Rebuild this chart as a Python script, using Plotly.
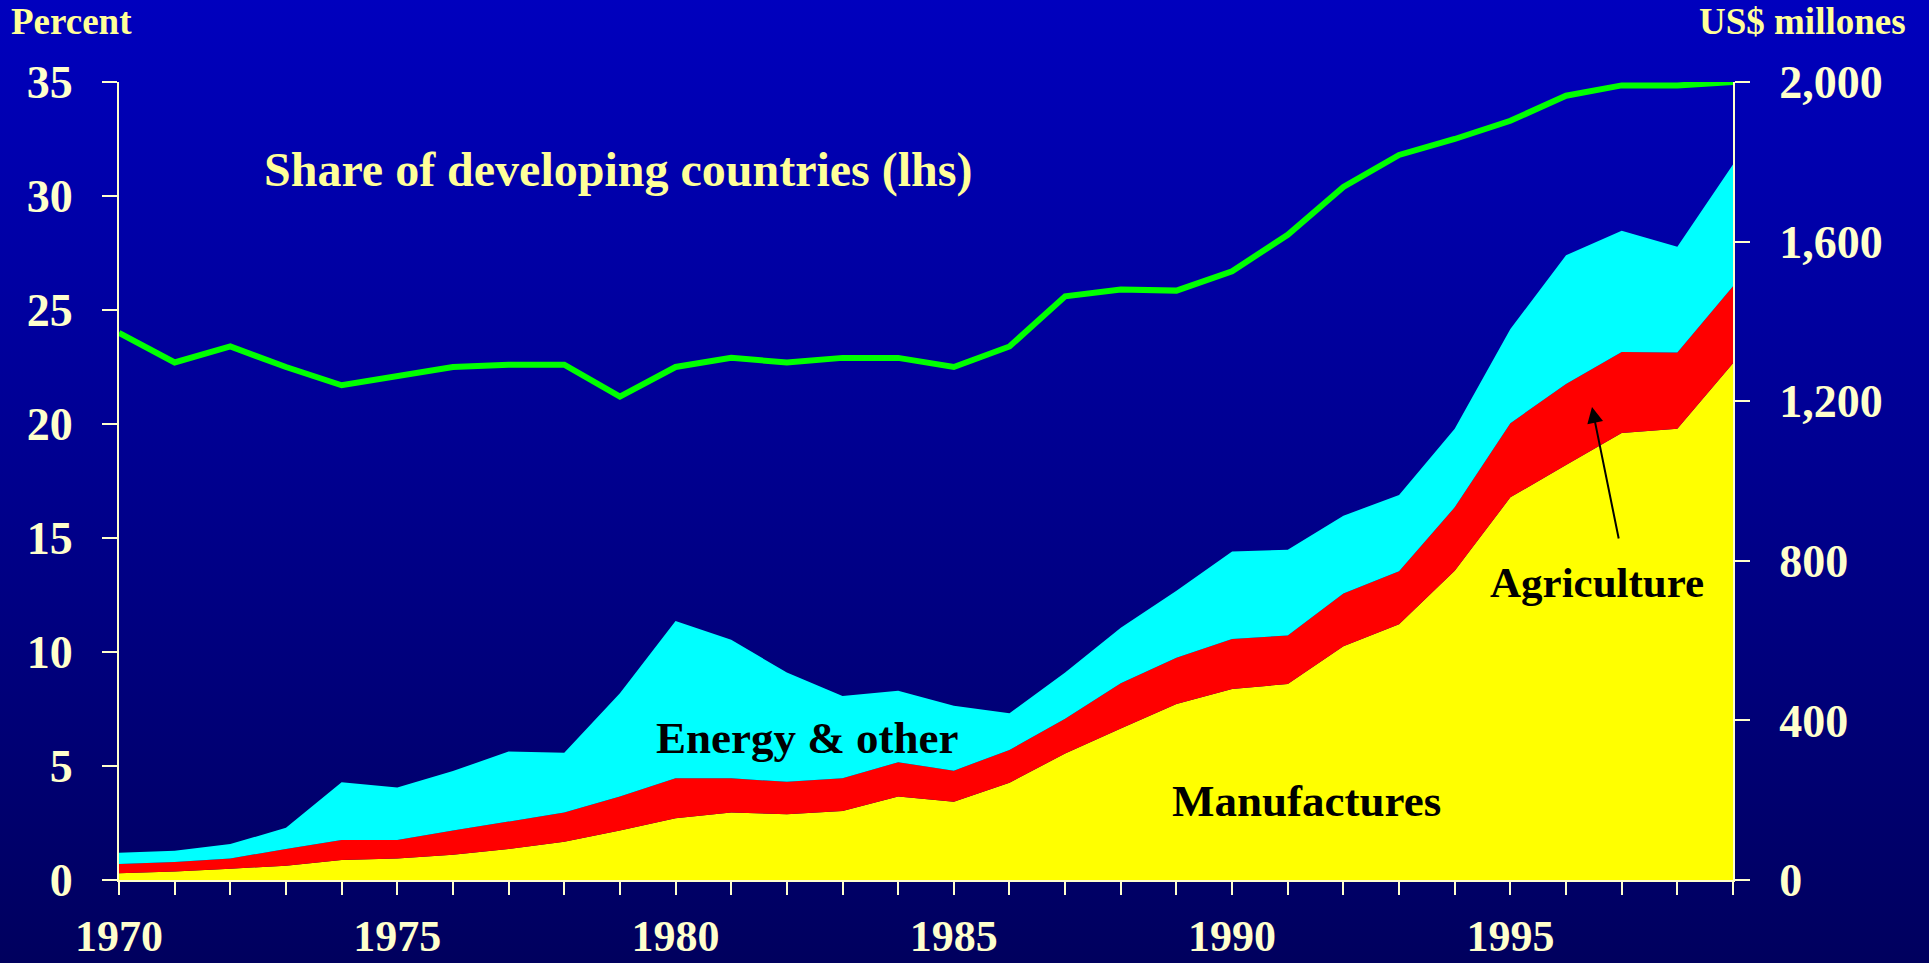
import base64
import plotly.graph_objects as go

# ---------------- data ----------------
years = list(range(1970, 2000))

# Share of developing countries (%), left axis
share_pct = [24.0, 22.7, 23.4, 22.5, 21.7, 22.1, 22.5, 22.6, 22.6, 21.2,
             22.5, 22.9, 22.7, 22.9, 22.9, 22.5, 23.4, 25.6, 25.9, 25.85,
             26.7, 28.3, 30.4, 31.8, 32.5, 33.3, 34.4, 34.85, 34.85, 35.0]

# Stacked components (US$ millones), right axis
manufactures = [17, 21, 28, 36, 50, 54, 63, 78, 96, 124,
                155, 169, 165, 173, 209, 196, 244, 317, 380, 441,
                479, 491, 586, 641, 775, 959, 1040, 1120, 1131, 1295]
agriculture = [23, 24, 26, 42, 50, 46, 61, 68, 73, 85,
               100, 86, 81, 82, 86, 78, 82, 87, 113, 116,
               125, 122, 132, 133, 159, 186, 203, 203, 191, 193]
energy_other = [28, 28, 36, 53, 145, 132, 149, 176, 150, 259,
                394, 347, 274, 206, 179, 163, 92, 116, 139, 168,
                219, 215, 195, 191, 197, 236, 323, 304, 265, 305]

left_ticks = [0, 5, 10, 15, 20, 25, 30, 35]
right_ticks = [0, 400, 800, 1200, 1600, 2000]
x_label_years = [1970, 1975, 1980, 1985, 1990, 1995]

# ---------------- layout geometry ----------------
W, H = 1929, 963
L, R, T, B = 119, 1733, 82, 880
PW, PH = R - L, B - T


def px(x):
    return (x - L) / PW


def py(y):
    return (B - y) / PH


CREAM = "#FFFFCC"
LABEL_YELLOW = "#FFFF99"
FONT = "Liberation Serif"

fig = go.Figure()

fig.add_trace(go.Scatter(x=years, y=manufactures, name="Manufactures",
                         mode="lines", line=dict(width=0, color="#FFFF00"),
                         fillcolor="#FFFF00", stackgroup="one", yaxis="y2",
                         hoverinfo="x+y"))
fig.add_trace(go.Scatter(x=years, y=agriculture, name="Agriculture",
                         mode="lines", line=dict(width=0, color="#FF0000"),
                         fillcolor="#FF0000", stackgroup="one", yaxis="y2",
                         hoverinfo="x+y"))
fig.add_trace(go.Scatter(x=years, y=energy_other, name="Energy & other",
                         mode="lines", line=dict(width=0, color="#00FFFF"),
                         fillcolor="#00FFFF", stackgroup="one", yaxis="y2",
                         hoverinfo="x+y"))
fig.add_trace(go.Scatter(x=years, y=share_pct, name="Share of developing countries",
                         mode="lines", line=dict(width=6, color="#00FF00"),
                         yaxis="y"))

# gradient background
svg = ('<svg xmlns="http://www.w3.org/2000/svg" width="100" height="100" '
       'viewBox="0 0 100 100" preserveAspectRatio="none">'
       '<defs><linearGradient id="g" x1="0" y1="0" x2="0" y2="1">'
       '<stop offset="0" stop-color="#0000BE"/>'
       '<stop offset="1" stop-color="#00005E"/>'
       '</linearGradient></defs>'
       '<rect x="0" y="0" width="100" height="100" fill="url(#g)"/></svg>')
src = "data:image/svg+xml;base64," + base64.b64encode(svg.encode()).decode()

tickfont = dict(family=FONT, size=46, color=CREAM, weight="bold")
xtickfont = dict(family=FONT, size=44, color=CREAM, weight="bold")

fig.update_layout(
    width=W, height=H,
    margin=dict(l=L, r=W - R, t=T, b=H - B, pad=0, autoexpand=False),
    paper_bgcolor="#00008C",
    plot_bgcolor="rgba(0,0,0,0)",
    showlegend=False,
    images=[dict(source=src, xref="paper", yref="paper",
                 x=px(0), y=py(0), sizex=W / PW, sizey=H / PH,
                 xanchor="left", yanchor="top", sizing="stretch",
                 layer="below")],
    xaxis=dict(range=[1970, 1999], showgrid=False, zeroline=False,
               showline=True, linecolor=CREAM, linewidth=2, automargin=False,
               tickmode="array", tickvals=x_label_years,
               ticktext=[str(v) for v in x_label_years],
               ticks="outside", ticklen=13, tickwidth=2, tickcolor=CREAM,
               minor=dict(dtick=1, tick0=1970, ticks="outside", ticklen=13,
                          tickwidth=2, tickcolor=CREAM),
               tickfont=xtickfont, ticklabelstandoff=3),
    yaxis=dict(range=[0, 35], showgrid=False, zeroline=False,
               showline=True, linecolor=CREAM, linewidth=2, automargin=False,
               tickmode="array", tickvals=left_ticks,
               ticks="outside", ticklen=15, tickwidth=2, tickcolor=CREAM,
               tickfont=tickfont, ticklabelstandoff=20),
    yaxis2=dict(range=[0, 2000], overlaying="y", side="right",
                showgrid=False, zeroline=False, automargin=False,
                showline=True, linecolor=CREAM, linewidth=2,
                tickmode="array", tickvals=right_ticks,
                ticktext=[f"{v:,}" for v in right_ticks],
                ticks="outside", ticklen=15, tickwidth=2, tickcolor=CREAM,
                tickfont=tickfont, ticklabelstandoff=20),
)

ann_font = dict(family=FONT, color="black")
fig.add_annotation(text="<b>Percent</b>", xref="paper", yref="paper",
                   x=px(71), y=py(22), xanchor="center", yanchor="middle",
                   showarrow=False, font=dict(family=FONT, size=37, color=LABEL_YELLOW))
fig.add_annotation(text="<b>US$ millones</b>", xref="paper", yref="paper",
                   x=px(1802), y=py(22), xanchor="center", yanchor="middle",
                   showarrow=False, font=dict(family=FONT, size=37, color=LABEL_YELLOW))
fig.add_annotation(text="<b>Share of developing countries (lhs)</b>", xref="paper", yref="paper",
                   x=px(262), y=py(170), xanchor="left", yanchor="middle",
                   showarrow=False, font=dict(family=FONT, size=48, color=LABEL_YELLOW))
fig.add_annotation(text="<b>Energy &amp; other</b>", xref="paper", yref="paper",
                   x=px(807), y=py(738), xanchor="center", yanchor="middle",
                   showarrow=False, font=dict(size=45, **ann_font))
fig.add_annotation(text="<b>Manufactures</b>", xref="paper", yref="paper",
                   x=px(1306), y=py(801), xanchor="center", yanchor="middle",
                   showarrow=False, font=dict(size=45, **ann_font))
fig.add_annotation(text="<b>Agriculture</b>", xref="paper", yref="paper",
                   x=px(1597), y=py(582), xanchor="center", yanchor="middle",
                   showarrow=False, font=dict(size=43, **ann_font))
fig.add_annotation(text="", xref="paper", yref="paper",
                   x=px(1592), y=py(407), ax=27, ay=133,
                   showarrow=True, arrowhead=2, arrowsize=1.6, arrowwidth=2,
                   arrowcolor="black", standoff=0, startstandoff=0)

fig.write_html("out.html",
               config={"displayModeBar": False},
               post_script="document.body.style.margin='0';"
                           "document.body.style.overflow='hidden';")
